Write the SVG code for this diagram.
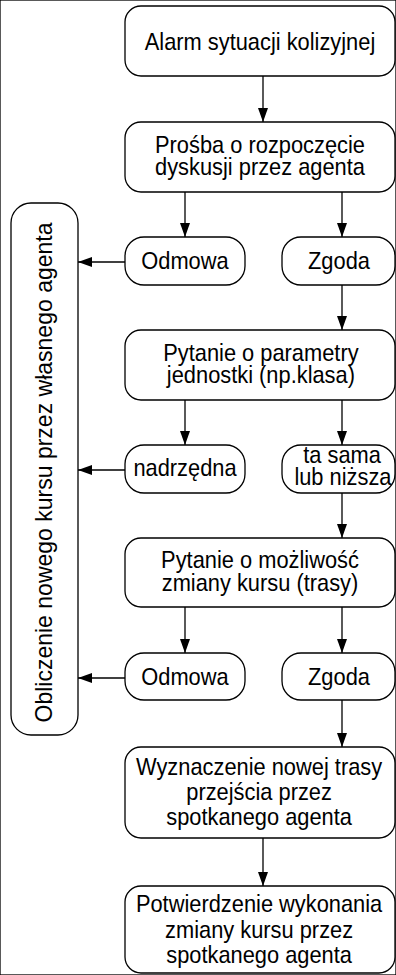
<svg xmlns="http://www.w3.org/2000/svg" width="396" height="975" viewBox="0 0 396 975">
<defs>
<marker id="ah" markerUnits="userSpaceOnUse" markerWidth="15" markerHeight="11" refX="14" refY="5" orient="auto">
<path d="M0,0 L14,5 L0,10 Z" fill="#000"/>
</marker>
</defs>
<style>
rect{fill:#fff;stroke:#000;stroke-width:1.3}
text{font-family:"Liberation Sans",Arial,sans-serif;font-size:24px;fill:#000;text-anchor:middle}
.c line{stroke:#000;stroke-width:1.3;marker-end:url(#ah)}
</style>
<rect width="396" height="975" fill="#fff" stroke="none"/>
<g class="c" id="connectors">
<line x1="263" y1="76" x2="263" y2="122"/>
<line x1="185" y1="192" x2="185" y2="237"/>
<line x1="342" y1="192" x2="342" y2="237"/>
<line x1="125" y1="262" x2="78" y2="262"/>
<line x1="342" y1="285" x2="342" y2="330"/>
<line x1="185" y1="400" x2="185" y2="445"/>
<line x1="342" y1="400" x2="342" y2="445"/>
<line x1="125" y1="470" x2="78" y2="470"/>
<line x1="342" y1="493" x2="342" y2="538"/>
<line x1="185" y1="607" x2="185" y2="653"/>
<line x1="342" y1="607" x2="342" y2="653"/>
<line x1="125" y1="678" x2="78" y2="678"/>
<line x1="342" y1="700" x2="342" y2="747"/>
<line x1="263" y1="838" x2="263" y2="886"/>
</g>
<g id="n1"><rect x="125" y="6" width="270" height="70" rx="16"/>
<g transform="matrix(0.91 0 0 1 23.4 0)"><text x="260" y="50">Alarm sytuacji kolizyjnej</text></g></g>
<g id="n2"><rect x="125" y="122" width="270" height="70" rx="16"/>
<g transform="matrix(0.91 0 0 1 23.4 0)"><text x="260" y="153">Prośba o rozpoczęcie</text><text x="260" y="175">dyskusji przez agenta</text></g></g>
<g id="n3"><rect x="125" y="237" width="120" height="48" rx="19"/>
<g transform="matrix(0.91 0 0 1 16.65 0)"><text x="185" y="269">Odmowa</text></g></g>
<g id="n4"><rect x="282" y="237" width="113" height="48" rx="19"/>
<g transform="matrix(0.91 0 0 1 30.5 0)"><text x="339" y="269">Zgoda</text></g></g>
<g id="n5"><rect x="11" y="203" width="67" height="532" rx="20"/>
<text transform="translate(52,472.5) rotate(-90)" x="0" y="0" textLength="500" lengthAdjust="spacingAndGlyphs">Obliczenie nowego kursu przez własnego agenta</text></g>
<g id="n6"><rect x="125" y="330" width="270" height="70" rx="16"/>
<g transform="matrix(0.91 0 0 1 23.4 0)"><text x="261" y="361">Pytanie o parametry</text><text x="261" y="383">jednostki (np.klasa)</text></g></g>
<g id="n7"><rect x="125" y="445" width="120" height="48" rx="19"/>
<g transform="matrix(0.91 0 0 1 16.65 0)"><text x="185" y="476">nadrzędna</text></g></g>
<g id="n8"><rect x="282" y="445" width="113" height="48" rx="19"/>
<g transform="matrix(0.91 0 0 1 30.8 0)"><text x="342" y="463">ta sama</text><text x="343" y="485">lub niższa</text></g></g>
<g id="n9"><rect x="125" y="538" width="270" height="69" rx="16"/>
<g transform="matrix(0.91 0 0 1 23.4 0)"><text x="260" y="568">Pytanie o możliwość</text><text x="260" y="591">zmiany kursu (trasy)</text></g></g>
<g id="n10"><rect x="125" y="653" width="120" height="47" rx="19"/>
<g transform="matrix(0.91 0 0 1 16.65 0)"><text x="185" y="685">Odmowa</text></g></g>
<g id="n11"><rect x="282" y="653" width="113" height="47" rx="19"/>
<g transform="matrix(0.91 0 0 1 30.5 0)"><text x="339" y="685">Zgoda</text></g></g>
<g id="n12"><rect x="125" y="747" width="270" height="91" rx="16"/>
<g transform="matrix(0.91 0 0 1 23.4 0)"><text x="259" y="775">Wyznaczenie nowej trasy</text><text x="259" y="800">przejścia przez</text><text x="259" y="825">spotkanego agenta</text></g></g>
<g id="n13"><rect x="125" y="886" width="270" height="87" rx="16"/>
<g transform="matrix(0.91 0 0 1 23.4 0)"><text x="259" y="912">Potwierdzenie wykonania</text><text x="259" y="938">zmiany kursu przez</text><text x="259" y="963">spotkanego agenta</text></g></g>
</svg>
